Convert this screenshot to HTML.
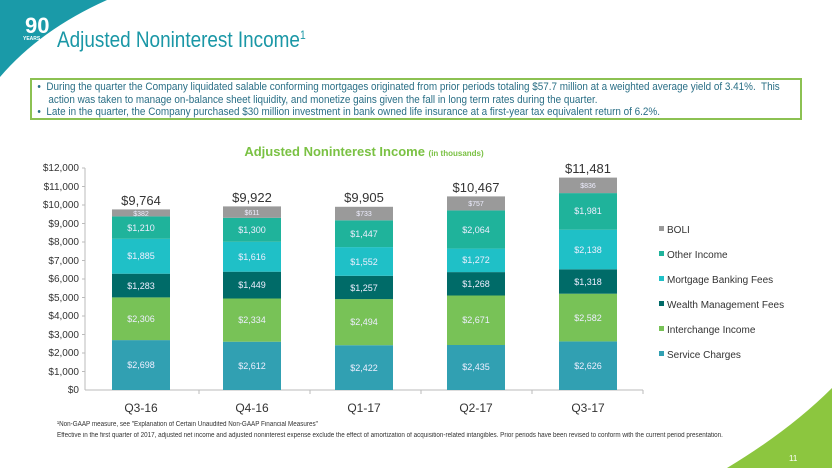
<!DOCTYPE html>
<html><head><meta charset="utf-8"><style>
body{margin:0;width:832px;height:468px;overflow:hidden;background:#fff;font-family:"Liberation Sans",sans-serif;position:relative}
.t{position:absolute;left:57px;top:27px;font-size:22px;color:#1a97a6;transform:scaleX(0.86);transform-origin:0 0;white-space:nowrap}
.box{position:absolute;left:30px;top:78px;width:772px;height:42px;border:2px solid #8cc152;box-sizing:border-box;overflow:hidden}
.in{transform:scaleX(0.9);transform-origin:0 0;font-size:11px;color:#2a6f86;line-height:12.5px;padding:1px 0 0 6px;white-space:nowrap}
.fn{position:absolute;left:57px;font-size:7px;color:#333;transform:scaleX(0.9);transform-origin:0 0;white-space:nowrap}
</style></head><body>
<svg width="832" height="468" style="position:absolute;left:0;top:0">
<path d="M0,0 L107,0 Q40,30 0,77 Z" fill="#1a9aa8"/>
<text x="25" y="33" font-size="22" font-weight="bold" fill="#fff" font-family="Liberation Sans">90</text>
<text x="23" y="40" font-size="5" font-weight="bold" fill="#fff">YEARS</text>
<path d="M727,468 Q790,430 832,388 L832,468 Z" fill="#8cc63f"/>
<text x="789" y="461" font-size="8" fill="#fff">11</text>
<text x="364" y="156" text-anchor="middle" font-size="13" font-weight="bold" fill="#7ac143">Adjusted Noninterest Income <tspan font-size="8">(in thousands)</tspan></text>
<g font-size="10" fill="#333" text-anchor="end">
<text x="79" y="393">$0</text><text x="79" y="375">$1,000</text><text x="79" y="356">$2,000</text><text x="79" y="338">$3,000</text><text x="79" y="319">$4,000</text><text x="79" y="301">$5,000</text><text x="79" y="282">$6,000</text><text x="79" y="264">$7,000</text><text x="79" y="245">$8,000</text><text x="79" y="227">$9,000</text><text x="79" y="208">$10,000</text><text x="79" y="190">$11,000</text><text x="79" y="171">$12,000</text>
</g>
<g stroke="#bbb" stroke-width="1">
<line x1="85" y1="168" x2="85" y2="390"/><line x1="85" y1="390" x2="643" y2="390"/>
<line x1="82" y1="168" x2="85" y2="168"/><line x1="82" y1="186.5" x2="85" y2="186.5"/><line x1="82" y1="205" x2="85" y2="205"/><line x1="82" y1="223.5" x2="85" y2="223.5"/><line x1="82" y1="242" x2="85" y2="242"/><line x1="82" y1="260.5" x2="85" y2="260.5"/><line x1="82" y1="279" x2="85" y2="279"/><line x1="82" y1="297.5" x2="85" y2="297.5"/><line x1="82" y1="316" x2="85" y2="316"/><line x1="82" y1="334.5" x2="85" y2="334.5"/><line x1="82" y1="353" x2="85" y2="353"/><line x1="82" y1="371.5" x2="85" y2="371.5"/>
<line x1="199" y1="390" x2="199" y2="394"/><line x1="310" y1="390" x2="310" y2="394"/><line x1="421" y1="390" x2="421" y2="394"/><line x1="532" y1="390" x2="532" y2="394"/><line x1="643" y1="390" x2="643" y2="394"/>
</g>
<g font-size="12" fill="#333" text-anchor="middle">
<text x="141" y="412">Q3-16</text><text x="252" y="412">Q4-16</text><text x="364" y="412">Q1-17</text><text x="476" y="412">Q2-17</text><text x="588" y="412">Q3-17</text>
</g>
<g>
<rect x="112" y="340.1" width="58" height="49.9" fill="#31a0b2"/><rect x="112" y="297.4" width="58" height="42.7" fill="#78c257"/><rect x="112" y="273.7" width="58" height="23.7" fill="#006b68"/><rect x="112" y="238.8" width="58" height="34.9" fill="#1fc0c7"/><rect x="112" y="216.4" width="58" height="22.4" fill="#1fb39b"/><rect x="112" y="209.4" width="58" height="7" fill="#9a9a9a"/>
<rect x="223" y="341.7" width="58" height="48.3" fill="#31a0b2"/><rect x="223" y="298.5" width="58" height="43.2" fill="#78c257"/><rect x="223" y="271.7" width="58" height="26.8" fill="#006b68"/><rect x="223" y="241.8" width="58" height="29.9" fill="#1fc0c7"/><rect x="223" y="217.8" width="58" height="24" fill="#1fb39b"/><rect x="223" y="206.4" width="58" height="11.4" fill="#9a9a9a"/>
<rect x="335" y="345.2" width="58" height="44.8" fill="#31a0b2"/><rect x="335" y="299.1" width="58" height="46.1" fill="#78c257"/><rect x="335" y="275.8" width="58" height="23.3" fill="#006b68"/><rect x="335" y="247.1" width="58" height="28.7" fill="#1fc0c7"/><rect x="335" y="220.3" width="58" height="26.8" fill="#1fb39b"/><rect x="335" y="206.8" width="58" height="13.5" fill="#9a9a9a"/>
<rect x="447" y="345" width="58" height="45" fill="#31a0b2"/><rect x="447" y="295.5" width="58" height="49.5" fill="#78c257"/><rect x="447" y="272.1" width="58" height="23.4" fill="#006b68"/><rect x="447" y="248.6" width="58" height="23.5" fill="#1fc0c7"/><rect x="447" y="210.4" width="58" height="38.2" fill="#1fb39b"/><rect x="447" y="196.4" width="58" height="14" fill="#9a9a9a"/>
<rect x="559" y="341.4" width="58" height="48.6" fill="#31a0b2"/><rect x="559" y="293.7" width="58" height="47.7" fill="#78c257"/><rect x="559" y="269.3" width="58" height="24.4" fill="#006b68"/><rect x="559" y="229.7" width="58" height="39.6" fill="#1fc0c7"/><rect x="559" y="193.1" width="58" height="36.6" fill="#1fb39b"/><rect x="559" y="177.6" width="58" height="15.5" fill="#9a9a9a"/>
</g>
<g font-size="9" fill="#eef" text-anchor="middle">
<text x="141" y="368">$2,698</text><text x="141" y="322">$2,306</text><text x="141" y="289">$1,283</text><text x="141" y="259">$1,885</text><text x="141" y="231">$1,210</text><text x="141" y="216" font-size="7">$382</text>
<text x="252" y="369">$2,612</text><text x="252" y="323">$2,334</text><text x="252" y="288">$1,449</text><text x="252" y="260">$1,616</text><text x="252" y="233">$1,300</text><text x="252" y="215" font-size="7">$611</text>
<text x="364" y="371">$2,422</text><text x="364" y="325">$2,494</text><text x="364" y="291">$1,257</text><text x="364" y="265">$1,552</text><text x="364" y="237">$1,447</text><text x="364" y="216" font-size="7">$733</text>
<text x="476" y="370">$2,435</text><text x="476" y="323">$2,671</text><text x="476" y="287">$1,268</text><text x="476" y="263">$1,272</text><text x="476" y="233">$2,064</text><text x="476" y="206" font-size="7">$757</text>
<text x="588" y="369">$2,626</text><text x="588" y="321">$2,582</text><text x="588" y="285">$1,318</text><text x="588" y="253">$2,138</text><text x="588" y="214">$1,981</text><text x="588" y="188" font-size="7">$836</text>
</g>
<g font-size="13" fill="#333" text-anchor="middle">
<text x="141" y="205">$9,764</text><text x="252" y="202">$9,922</text><text x="364" y="202">$9,905</text><text x="476" y="192">$10,467</text><text x="588" y="173">$11,481</text>
</g>
<g font-size="10" fill="#333">
<rect x="659" y="226" width="5" height="5" fill="#9a9a9a"/><text x="667" y="233">BOLI</text>
<rect x="659" y="251" width="5" height="5" fill="#1fb39b"/><text x="667" y="258">Other Income</text>
<rect x="659" y="276" width="5" height="5" fill="#1fc0c7"/><text x="667" y="283">Mortgage Banking Fees</text>
<rect x="659" y="301" width="5" height="5" fill="#006b68"/><text x="667" y="308">Wealth Management Fees</text>
<rect x="659" y="326" width="5" height="5" fill="#78c257"/><text x="667" y="333">Interchange Income</text>
<rect x="659" y="351" width="5" height="5" fill="#31a0b2"/><text x="667" y="358">Service Charges</text>
</g>
</svg>
<div class="t">Adjusted Noninterest Income<span style="font-size:12px;vertical-align:8px">1</span></div>
<div class="box"><div class="in">
•&nbsp;&nbsp;During the quarter the Company liquidated salable conforming mortgages originated from prior periods totaling $57.7 million at a weighted average yield of 3.41%.&nbsp; This<br>
&nbsp;&nbsp;&nbsp;&nbsp;action was taken to manage on-balance sheet liquidity, and monetize gains given the fall in long term rates during the quarter.<br>
•&nbsp;&nbsp;Late in the quarter, the Company purchased $30 million investment in bank owned life insurance at a first-year tax equivalent return of 6.2%.
</div></div>
<div class="fn" style="top:421px">¹Non-GAAP measure, see "Explanation of Certain Unaudited Non-GAAP Financial Measures"</div>
<div class="fn" style="top:432px">Effective in the first quarter of 2017, adjusted net income and adjusted noninterest expense exclude the effect of amortization of acquisition-related intangibles. Prior periods have been revised to conform with the current period presentation.</div>
</body></html>
